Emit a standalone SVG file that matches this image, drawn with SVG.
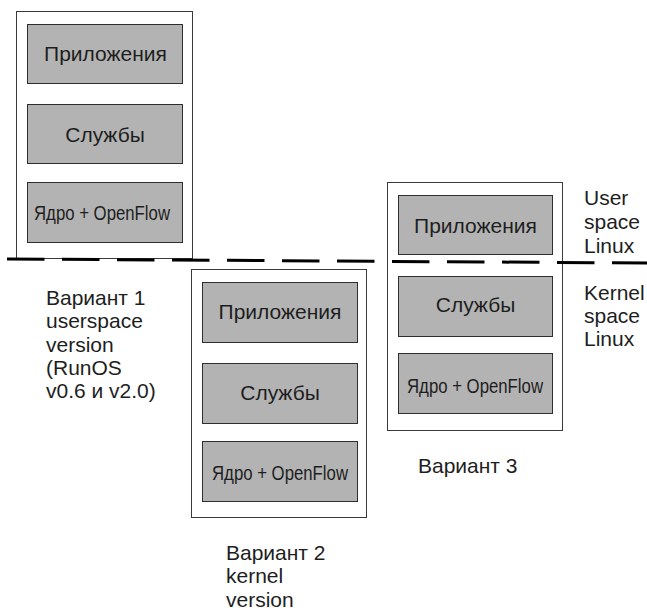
<svg xmlns="http://www.w3.org/2000/svg" width="647" height="608" viewBox="0 0 647 608">
  <style>
    .outer { fill: #ffffff; stroke: #3a3a3a; stroke-width: 1; }
    .layer { fill: #b3b3b3; stroke: #2e2e2e; stroke-width: 1; }
    .t { font-family: "Liberation Sans", Arial, sans-serif; font-size: 21px; fill: #1e1e1e; }
    .c { text-anchor: middle; }
    .sep { stroke: #000000; stroke-width: 3; stroke-dasharray: 37.5 17.5; fill: none; }
  </style>
  <rect width="647" height="608" fill="#ffffff"/>

  <!-- Variant 1: whole stack in user space -->
  <g id="variant1">
    <rect class="outer" x="16.5" y="11.5" width="176" height="247"/>
    <g id="v1-apps">
      <rect class="layer" x="27.5" y="24.5" width="155" height="59"/>
      <text class="t c" x="105.5" y="60.5">Приложения</text>
    </g>
    <g id="v1-services">
      <rect class="layer" x="27.5" y="104.5" width="155" height="59"/>
      <text class="t c" x="105" y="141.5">Службы</text>
    </g>
    <g id="v1-core">
      <rect class="layer" x="27.5" y="182.5" width="155" height="60"/>
      <text class="t c" x="102" y="220" font-size="22" textLength="136" lengthAdjust="spacingAndGlyphs">Ядро + OpenFlow</text>
    </g>
  </g>

  <!-- Variant 2: whole stack in kernel space -->
  <g id="variant2">
    <rect class="outer" x="191.5" y="269.5" width="175" height="248"/>
    <g id="v2-apps">
      <rect class="layer" x="202.5" y="282.5" width="155" height="60"/>
      <text class="t c" x="280" y="319">Приложения</text>
    </g>
    <g id="v2-services">
      <rect class="layer" x="202.5" y="363.5" width="155" height="60"/>
      <text class="t c" x="280" y="400">Службы</text>
    </g>
    <g id="v2-core">
      <rect class="layer" x="202.5" y="441.5" width="155" height="60"/>
      <text class="t c" x="280" y="479.5" font-size="22" textLength="136" lengthAdjust="spacingAndGlyphs">Ядро + OpenFlow</text>
    </g>
  </g>

  <!-- Variant 3: applications in user space, the rest in kernel space -->
  <g id="variant3">
    <rect class="outer" x="387.5" y="182.5" width="175" height="248"/>
    <g id="v3-apps">
      <rect class="layer" x="398.5" y="195.5" width="154" height="59"/>
      <text class="t c" x="475.5" y="233">Приложения</text>
    </g>
    <g id="v3-services">
      <rect class="layer" x="398.5" y="276.5" width="154" height="60"/>
      <text class="t c" x="475.5" y="312">Службы</text>
    </g>
    <g id="v3-core">
      <rect class="layer" x="398.5" y="353.5" width="154" height="60"/>
      <text class="t c" x="475" y="392.5" font-size="22" textLength="136" lengthAdjust="spacingAndGlyphs">Ядро + OpenFlow</text>
    </g>
  </g>

  <!-- user space / kernel space boundary -->
  <g id="connectors">
    <line class="sep" x1="7" y1="259" x2="650" y2="263"/>
  </g>

  <!-- captions -->
  <g id="caption1">
    <text class="t" x="46" y="305">Вариант 1</text>
    <text class="t" x="46" y="328.3">userspace</text>
    <text class="t" x="46" y="351.6">version</text>
    <text class="t" x="46" y="375">(RunOS</text>
    <text class="t" x="46" y="398.3">v0.6 и v2.0)</text>
  </g>
  <g id="caption2">
    <text class="t" x="226" y="560">Вариант 2</text>
    <text class="t" x="226" y="583.3">kernel</text>
    <text class="t" x="226" y="606.6">version</text>
  </g>
  <g id="caption3">
    <text class="t" x="418" y="472.5">Вариант 3</text>
  </g>
  <g id="user-space-label">
    <text class="t" x="584" y="205">User</text>
    <text class="t" x="584" y="228.8">space</text>
    <text class="t" x="584" y="252.6">Linux</text>
  </g>
  <g id="kernel-space-label">
    <text class="t" x="584" y="299.5">Kernel</text>
    <text class="t" x="584" y="322.8">space</text>
    <text class="t" x="584" y="346">Linux</text>
  </g>
</svg>
